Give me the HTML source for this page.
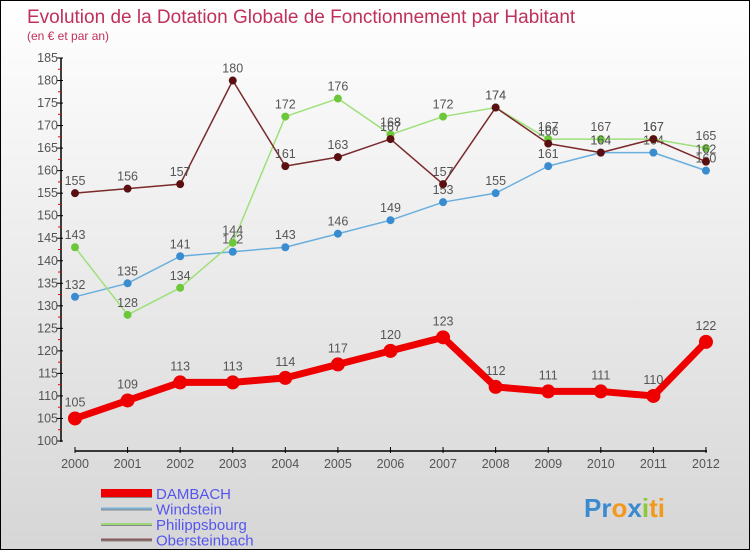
<!DOCTYPE html>
<html><head><meta charset="utf-8"><style>
body{margin:0}
#c{width:750px;height:550px;position:relative;box-sizing:border-box;border:1px solid #000;background:linear-gradient(#ffffff,#d6d6d6);font-family:"Liberation Sans",sans-serif;overflow:hidden}
</style></head><body>
<div id="c">
<svg id="s" width="748" height="548" style="position:absolute;left:0;top:0">
<text x="26" y="22" font-size="19" fill="#c0305a">Evolution de la Dotation Globale de Fonctionnement par Habitant</text>
<text x="26" y="39" font-size="12" fill="#c0305a">(en € et par an)</text>
</svg>
</div>
<script>
const years=[2000,2001,2002,2003,2004,2005,2006,2007,2008,2009,2010,2011,2012];
const dambach=[105,109,113,113,114,117,120,123,112,111,111,110,122];
const windstein=[132,135,141,142,143,146,149,153,155,161,164,164,160];
const philippsbourg=[143,128,134,144,172,176,168,172,174,167,167,167,165];
const obersteinbach=[155,156,157,180,161,163,167,157,174,166,164,167,162];
const yTicks=[100,105,110,115,120,125,130,135,140,145,150,155,160,165,170,175,180,185];
const NS="http://www.w3.org/2000/svg",svg=document.getElementById('s');
const X=i=>74+i*52.58, Y=v=>440-(v-100)*4.506;
function el(t,a,p){const e=document.createElementNS(NS,t);for(const k in a)e.setAttribute(k,a[k]);(p||svg).appendChild(e);return e;}
let ax=el('line',{x1:60,y1:57,x2:60,y2:441,stroke:'#000','stroke-width':1.5});


let xa=el('line',{x1:74,y1:450,x2:706,y2:450,stroke:'#000','stroke-width':1.5});


yTicks.forEach((v,i)=>{
 el('line',{x1:56,y1:Y(v),x2:62,y2:Y(v),stroke:'#000'});
 if(i<yTicks.length-1)el('line',{x1:57,y1:Y(v+2.5),x2:60,y2:Y(v+2.5),stroke:'#e00'});
 const t=el('text',{x:57,y:Y(v)+4,'font-size':12.5,fill:'#555','text-anchor':'end'});
 t.textContent=v;
 
 
});
years.forEach((y,i)=>{
 el('line',{x1:X(i),y1:446,x2:X(i),y2:452,stroke:'#000'});
 const t=el('text',{x:X(i),y:467,'font-size':12.5,fill:'#555','text-anchor':'middle'});
 t.textContent=y;
 
 
});
function series(d,color,dot,w,r,name,fs,dy){
 const g=el('g',{});
 
 
 el('polyline',{points:d.map((v,i)=>X(i)+','+Y(v)).join(' '),fill:'none',stroke:color,'stroke-width':w,'stroke-linejoin':'round'},g);
 d.forEach((v,i)=>{
  const c=el('circle',{cx:X(i),cy:Y(v),r:r,fill:dot},g);
  
  
  const t=el('text',{x:X(i),y:Y(v)-dy,'font-size':fs,fill:'#555','text-anchor':'middle'},g);
  t.textContent=v;
  
  
 });
}
series(windstein,'#6aaede','#3a8cd0',1.5,4,'windstein',12.5,8);
series(philippsbourg,'#9ee07a','#6cc83a',1.5,4,'philippsbourg',12.5,8);
series(obersteinbach,'#7a2a2a','#5a1010',1.5,4,'obersteinbach',12.5,8);
series(dambach,'#ee0000','#ee0000',7,7,'dambach',12.5,12);
const leg=[['DAMBACH','#ee0000',8],['Windstein','#7ab0d8',2],['Philippsbourg','#9ed87a',2],['Obersteinbach','#8a5a5a',2]];
leg.forEach((l,i)=>{
 const y=492+i*15.5;
 const g=el('g',{});
 
 
 el('line',{x1:100,y1:y+1,x2:151,y2:y+1,stroke:'#888','stroke-width':l[2]},g);
 el('line',{x1:100,y1:y,x2:151,y2:y,stroke:l[1],'stroke-width':l[2]},g);
 const t=el('text',{x:155,y:y+6,'font-size':15,fill:'#5555ee'},g);
 t.textContent=l[0];
});
const p=el('text',{x:583,y:516,'font-size':26,'font-weight':'bold',fill:'#3a8ad0'});


p.innerHTML='<tspan fill="#3a8ad0">Pr</tspan><tspan fill="#f39a1e">o</tspan><tspan fill="#3a8ad0">x</tspan><tspan fill="#8cc83a">i</tspan><tspan fill="#f39a1e">ti</tspan>';
</script>
</body></html>
